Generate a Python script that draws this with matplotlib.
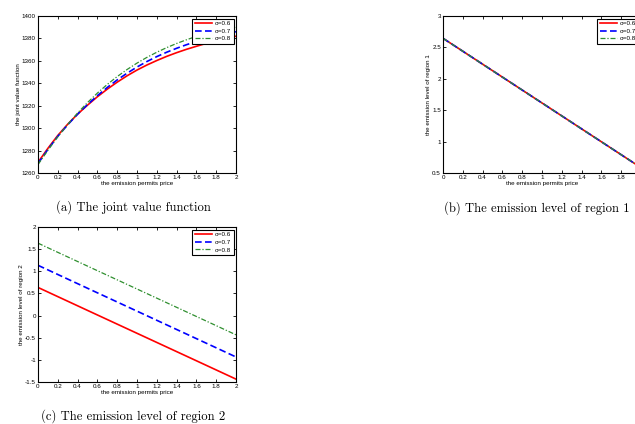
import matplotlib
matplotlib.use("Agg")
import matplotlib.pyplot as plt
from matplotlib.ticker import FormatStrFormatter, MultipleLocator

# ---------------- data ----------------
price = [0.0, 0.1, 0.2, 0.3, 0.4, 0.5, 0.6, 0.7, 0.8, 0.9, 1.0,
         1.1, 1.2, 1.3, 1.4, 1.5, 1.6, 1.7, 1.8, 1.9, 2.0]

sigma_labels = ["σ=0.6", "σ=0.7", "σ=0.8"]

joint_s06 = [1269.5, 1282, 1293.5, 1303.5, 1312.5, 1320.5, 1328, 1334.8, 1341, 1346.7, 1351.8,
             1356.3, 1360.3, 1364, 1367.3, 1370.3, 1373, 1375.6, 1378, 1380.1, 1382]
joint_s07 = [1268.5, 1281, 1292.7, 1303, 1312.5, 1321, 1329, 1336.3, 1343, 1349, 1354.5,
             1359.4, 1363.8, 1367.7, 1371.2, 1374.4, 1377.3, 1380, 1382.3, 1384.3, 1386]
joint_s08 = [1267.5, 1280.3, 1292.3, 1303.3, 1313.5, 1322.8, 1331.3, 1339, 1346, 1352.3, 1358,
             1363.1, 1367.7, 1371.8, 1375.5, 1378.8, 1381.8, 1384.4, 1386.6, 1388.5, 1390]

price_lin = [0.0, 0.5, 1.0, 1.5, 2.0]
region1_s06 = [2.645, 2.13, 1.615, 1.10, 0.585]
region1_s07 = [2.645, 2.13, 1.615, 1.10, 0.585]
region1_s08 = [2.645, 2.13, 1.615, 1.10, 0.585]

region2_s06 = [0.635, 0.117, -0.40, -0.917, -1.435]
region2_s07 = [1.135, 0.617, 0.10, -0.417, -0.935]
region2_s08 = [1.635, 1.117, 0.60, 0.083, -0.435]

x_ticks = [0, 0.2, 0.4, 0.6, 0.8, 1.0, 1.2, 1.4, 1.6, 1.8, 2.0]
captions = ["(a) The joint value function",
            "(b) The emission level of region 1",
            "(c) The emission level of region 2"]
xlabel = "the emission permits price"
ylabels = ["the joint value function",
           "the emission level of region 1",
           "the emission level of region 2"]

# ---------------- style ----------------
W, H = 635, 424
fig = plt.figure(figsize=(W / 100, H / 100), dpi=100)
plt.rcParams['font.family'] = ['Liberation Sans', 'DejaVu Sans']

RED = '#ff0000'
BLUE = '#0000ff'
GREEN = '#2f8f2f'
styles = [dict(color=RED, ls='-', lw=1.2),
          dict(color=BLUE, ls=(0, (4, 2)), lw=1.2),
          dict(color=GREEN, ls=(0, (4, 1.5, 1, 1.5)), lw=0.9)]

FS = 4.5


def px_axes(left, top, right, bottom):
    return fig.add_axes([left / W, 1 - bottom / H, (right - left) / W, (bottom - top) / H])


def style_axes(ax, ylim, ystep, ylab):
    ax.set_xlim(0, 2)
    ax.set_ylim(*ylim)
    ax.set_xticks(x_ticks)
    ax.xaxis.set_major_formatter(FormatStrFormatter('%g'))
    ax.yaxis.set_major_locator(MultipleLocator(ystep))
    ax.yaxis.set_major_formatter(FormatStrFormatter('%g'))
    ax.tick_params(direction='in', length=2, width=0.6, labelsize=FS, pad=1.5,
                   top=True, right=True)
    for s in ax.spines.values():
        s.set_linewidth(0.8)
    ax.set_xlabel(xlabel, fontsize=FS, labelpad=1)
    ax.set_ylabel(ylab, fontsize=FS, labelpad=1)


def add_legend(ax):
    leg = ax.legend(sigma_labels, loc='upper right', fontsize=FS, fancybox=False,
                    edgecolor='black', framealpha=1, handlelength=2.8,
                    borderaxespad=0.4, borderpad=0.4, labelspacing=0.35,
                    handletextpad=0.4)
    leg.get_frame().set_linewidth(0.8)


# (a)
ax1 = px_axes(38, 16, 236, 173)
for ys, st in zip([joint_s06, joint_s07, joint_s08], styles):
    ax1.plot(price, ys, **st)
style_axes(ax1, (1260, 1400), 20, ylabels[0])
add_legend(ax1)

# (b)
ax2 = px_axes(443, 16, 641, 173)
for ys, st in zip([region1_s06, region1_s07, region1_s08], styles):
    ax2.plot(price_lin, ys, **st)
style_axes(ax2, (0.5, 3), 0.5, ylabels[1])
add_legend(ax2)

# (c)
ax3 = px_axes(38, 227, 236, 382)
for ys, st in zip([region2_s06, region2_s07, region2_s08], styles):
    ax3.plot(price_lin, ys, **st)
style_axes(ax3, (-1.5, 2), 0.5, ylabels[2])
add_legend(ax3)

# captions
cap_kw = dict(fontsize=9.1, family='cmr10', ha='center', va='center')
fig.text(133 / W, 1 - 207 / H, captions[0], **cap_kw)
fig.text(537 / W, 1 - 208 / H, captions[1], **cap_kw)
fig.text(133 / W, 1 - 416 / H, captions[2], **cap_kw)

fig.savefig("out.png", dpi=100)
